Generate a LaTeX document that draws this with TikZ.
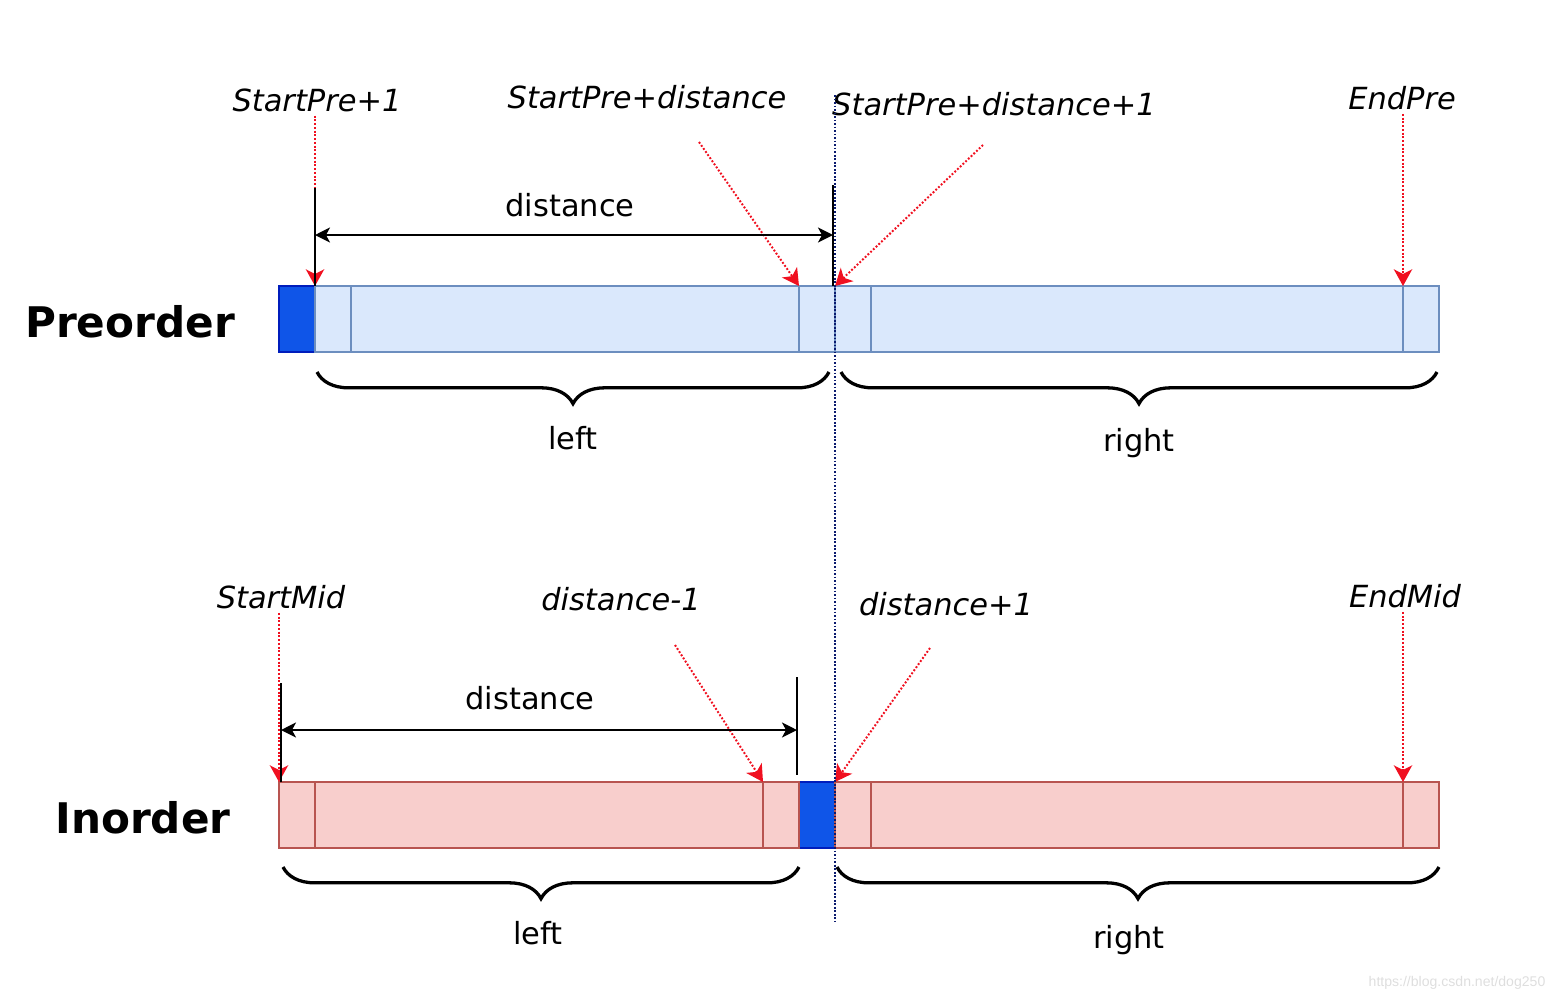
\documentclass[tikz,border=0pt]{standalone}
\usepackage{fontspec}
\setmainfont{DejaVu Sans}
\newfontfamily\wmfont{Liberation Sans}
\usetikzlibrary{arrows.meta,calc,decorations.pathreplacing}

\definecolor{preFill}{HTML}{DAE8FC}
\definecolor{preLine}{HTML}{6C8EBF}
\definecolor{inFill}{HTML}{F8CECC}
\definecolor{inLine}{HTML}{B85450}
\definecolor{keyFill}{HTML}{0F55E8}
\definecolor{keyLine}{HTML}{001DBC}
\definecolor{ptrRed}{HTML}{F01020}
\definecolor{midLine}{HTML}{0A1A6E}

\begin{document}
\begin{tikzpicture}[x=0.03cm,y=-0.03cm]
            \tikzstyle{cell}=[rectangle,inner sep=0pt,outer sep=0pt,minimum height=1.98cm,minimum width=1.08cm,line width=1.6pt]
            \tikzstyle{P}=[cell,draw=preLine,fill=preFill]   % preorder slot
            \tikzstyle{I}=[cell,draw=inLine,fill=inFill]     % inorder slot
            \tikzstyle{K}=[cell,draw=keyLine,fill=keyFill]   % root slot

            \tikzstyle{ptr}=[font=\fontsize{26}{30}\selectfont\itshape]
            \tikzstyle{txt}=[font=\fontsize{26}{30}\selectfont]
            \tikzstyle{title}=[font=\fontsize{36}{42}\selectfont\bfseries]

            \tikzstyle{redptr}=[draw=ptrRed,line width=1.7pt,dash pattern=on 1.6pt off 1.6pt,-{Stealth[length=0.5cm,width=0.55cm,inset=0.14cm]}]
            \tikzstyle{dim}=[line width=2.4pt]
            \tikzstyle{measure}=[line width=1.6pt,{Stealth[length=0.45cm,width=0.45cm,inset=0.12cm]}-{Stealth[length=0.45cm,width=0.45cm,inset=0.12cm]}]
            \tikzstyle{brace}=[decorate,decoration={brace,mirror,amplitude=0.95cm},line width=2.8pt]

            \useasboundingbox (0,0) rectangle (1566,1002);

            \node[title] (pre) at (130,322) {Preorder};
            \node[title] (in)  at (143,818) {Inorder};

            % preorder row
            \node[K] (P0) at ( 297,319) {};
            \node[P] (P1) at ( 333,319) {};
            \node[P,minimum width=13.44cm] (P2) at ( 575,319) {};
            \node[P] (P3) at ( 817,319) {};
            \node[P] (P4) at ( 853,319) {};
            \node[P,minimum width=15.96cm] (P5) at (1137,319) {};
            \node[P] (P6) at (1421,319) {};

            % inorder row
            \node[K] (I3) at ( 817,815) {};
            \node[I] (I0) at ( 297,815) {};
            \node[I,minimum width=13.44cm] (I1) at ( 539,815) {};
            \node[I] (I2) at ( 781,815) {};
            \node[I] (I4) at ( 853,815) {};
            \node[I,minimum width=15.96cm] (I5) at (1137,815) {};
            \node[I] (I6) at (1421,815) {};

            % index labels
            \node[ptr] (sp1)  at ( 317,100) {StartPre+1};
            \node[ptr] (spd)  at ( 647, 97) {StartPre+distance};
            \node[ptr] (spd1) at ( 994,104) {StartPre+distance+1};
            \node[ptr] (ep)   at (1402, 98) {EndPre};
            \node[ptr] (sm)   at ( 281,597) {StartMid};
            \node[ptr] (dm1)  at ( 621,599) {distance-1};
            \node[ptr] (dp1)  at ( 946,604) {distance+1};
            \node[ptr] (em)   at (1405,596) {EndMid};

            \coordinate (a2) at (699,142);
            \coordinate (a3) at (983,145);
            \coordinate (b2) at (675,645);
            \coordinate (b3) at (930,648);

            \draw[redptr] (P1.north west |- sp1.south) -- (P1.north west);
            \draw[redptr] (a2) -- (P3.north west);
            \draw[redptr] (a3) -- (P4.north west);
            \draw[redptr] (P6.north west |- ep.south) -- (P6.north west);
            \draw[redptr] (I0.north west |- sm.south) -- (I0.north west);
            \draw[redptr] (b2) -- (I2.north west);
            \draw[redptr] (b3) -- (I4.north west);
            \draw[redptr] (I6.north west |- em.south) -- (I6.north west);

            % distance marks
            \draw[dim] (P1.north west) -- ++(0,-98);
            \draw[dim] (P4.north west) ++(-2,0) -- ++(0,-101);
            \coordinate (m1) at (315,235);
            \coordinate (m2) at (833,235);
            \draw[measure] (m1) -- (m2);
            \node[txt] (d1) at (570,205) {distance};

            \draw[dim] (I0.north west) ++(2,0) -- ++(0,-99);
            \draw[dim] (797,677) -- (797,775);
            \coordinate (m3) at (281,730);
            \coordinate (m4) at (797,730);
            \draw[measure] (m3) -- (m4);
            \node[txt] (d2) at (530,698) {distance};

            % braces
            \draw[brace] (317,372) -- (829,372);
            \draw[brace] (841,372) -- (1437,372);
            \draw[brace] (283,867) -- (799,867);
            \draw[brace] (837,867) -- (1439,867);
            \node[txt] (l1) at ( 573,438) {left};
            \node[txt] (r1) at (1139,443) {right};
            \node[txt] (l2) at ( 538,933) {left};
            \node[txt] (r2) at (1129,940) {right};

            \draw[midLine,line width=1.4pt,dash pattern=on 1.5pt off 1.5pt] (835,95) -- (835,922);

            \node[font=\wmfont\fontsize{12}{14}\selectfont,text=black!13] (wm) at (1457,983) {https://blog.csdn.net/dog250};
\end{tikzpicture}
\end{document}
